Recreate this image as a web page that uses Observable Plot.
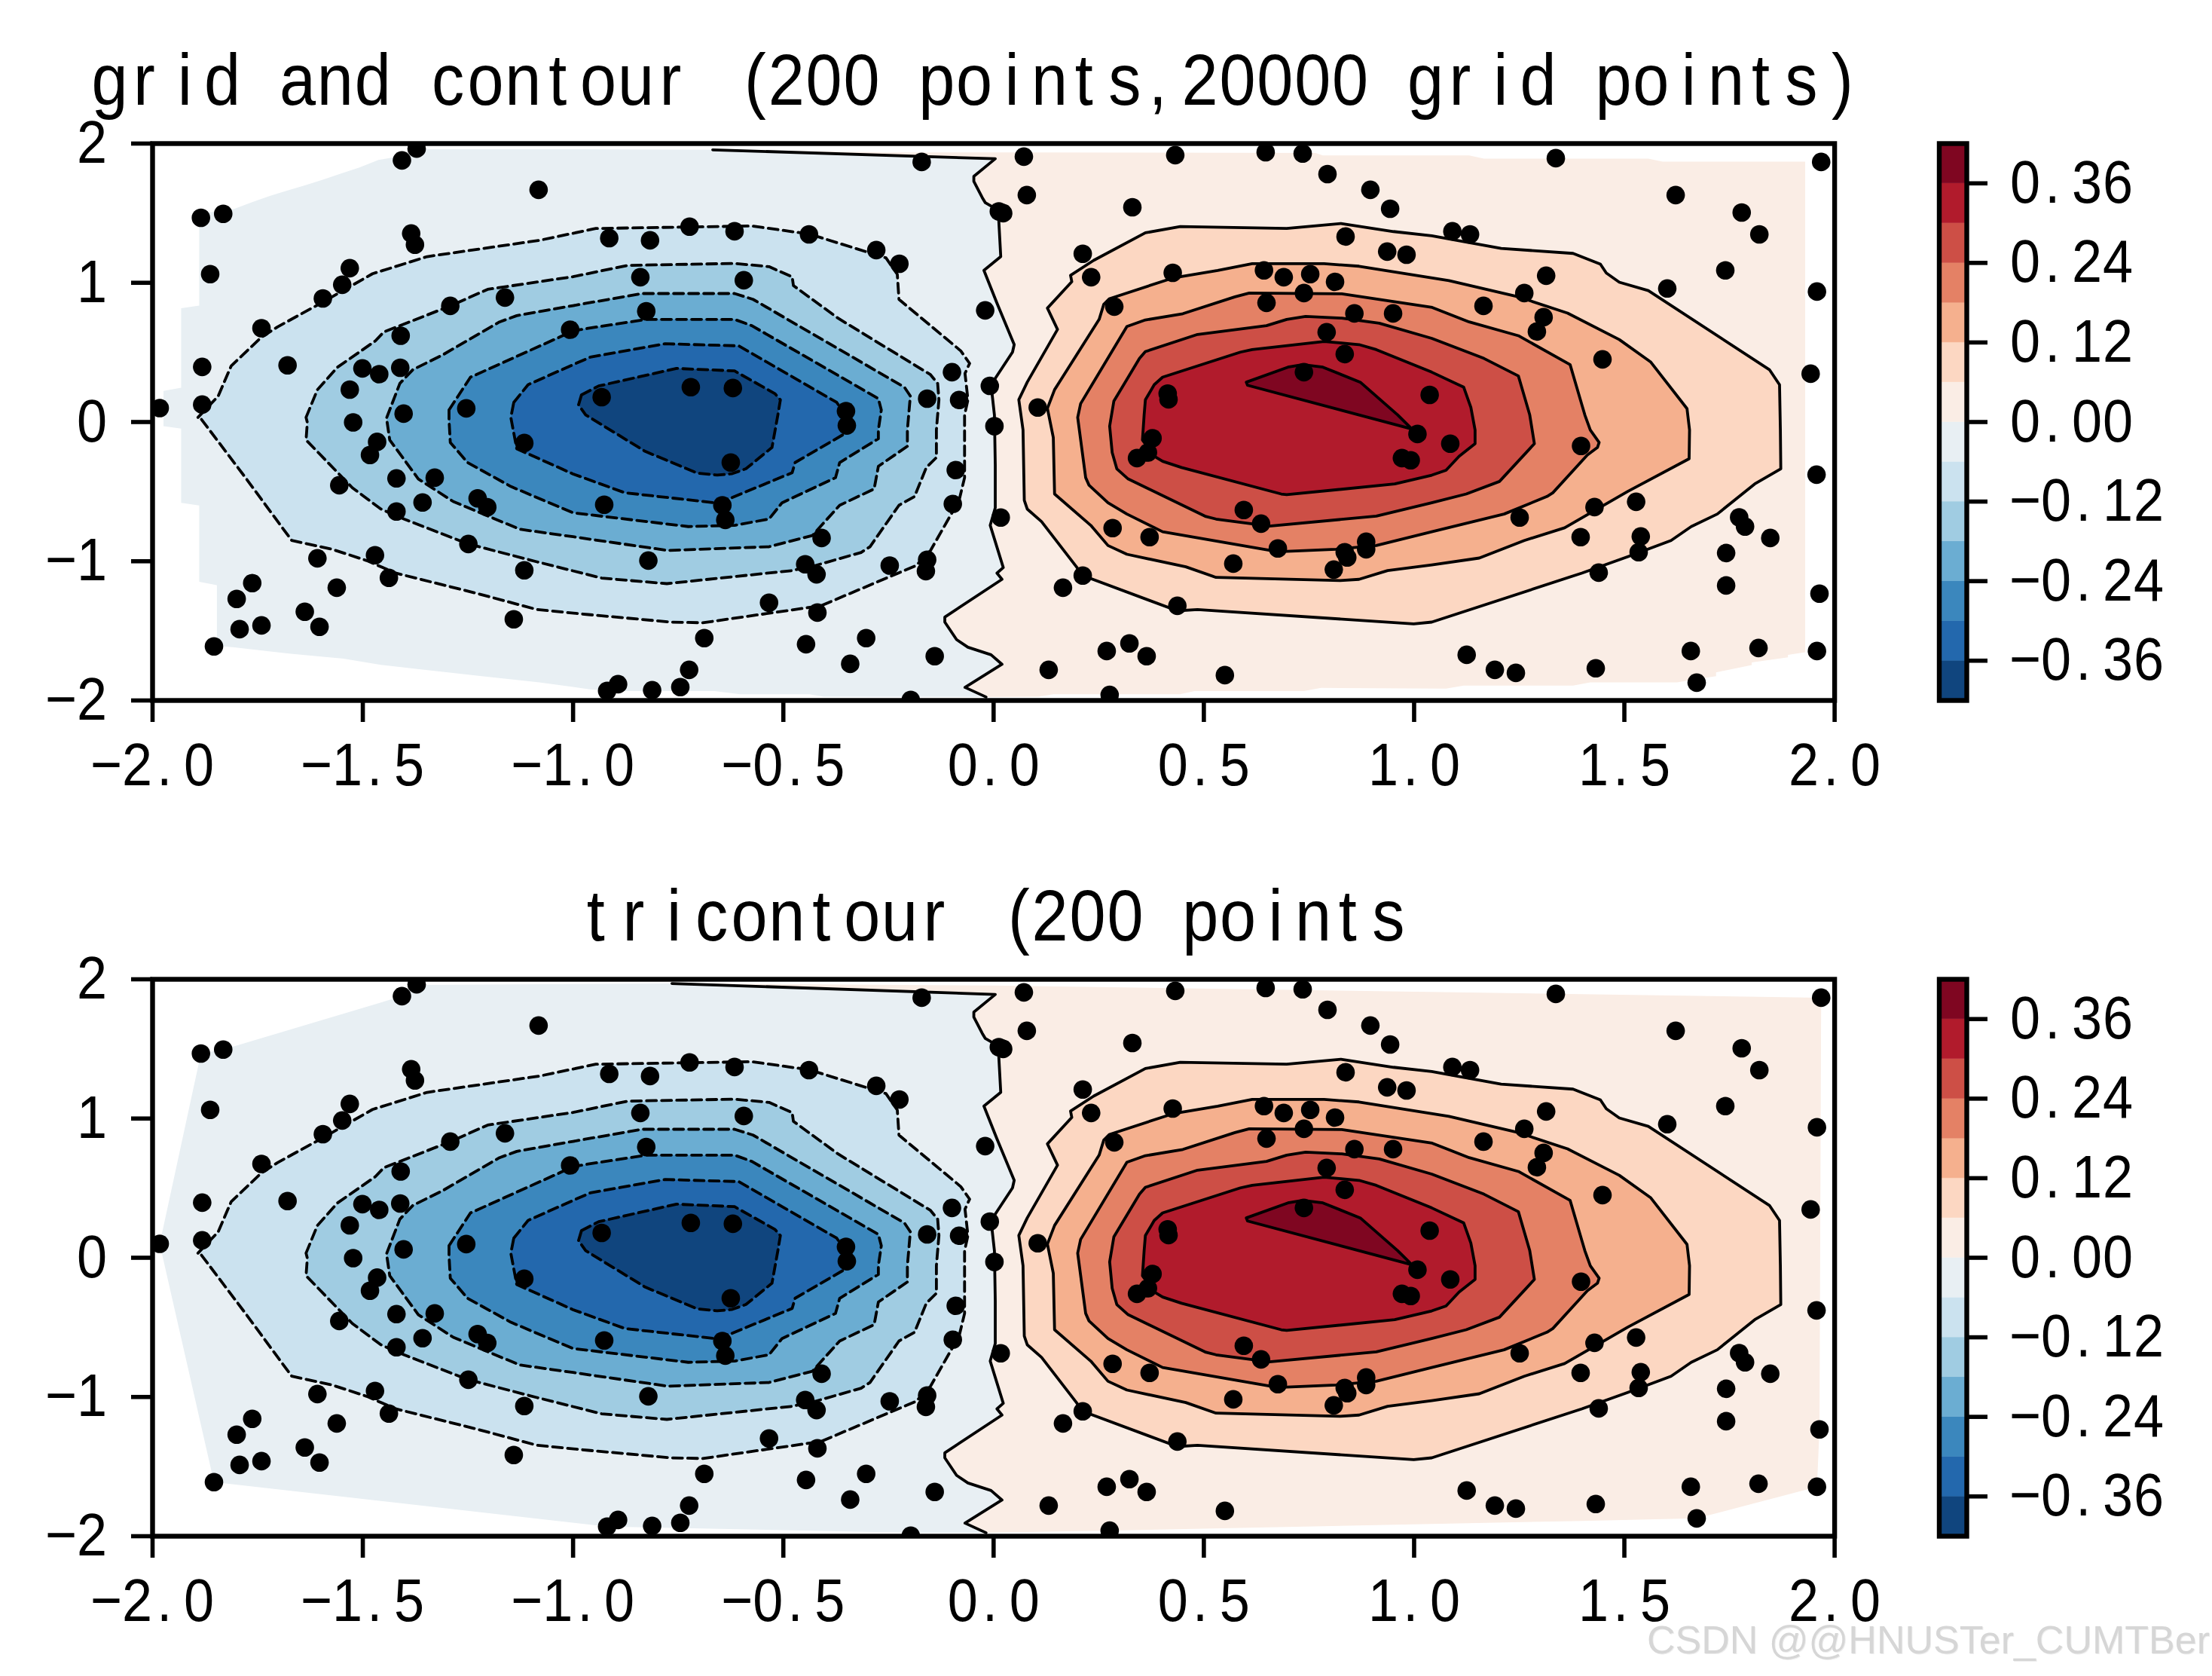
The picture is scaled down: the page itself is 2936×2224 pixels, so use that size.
<!DOCTYPE html>
<html>
<head>
<meta charset="utf-8">
<script src="https://cdn.jsdelivr.net/npm/d3@7"></script>
<script src="https://cdn.jsdelivr.net/npm/@observablehq/plot@0.6"></script>
<style>
html,body{margin:0;padding:0;background:#fff;width:2936px;height:2224px;overflow:hidden;position:relative}
#wm{position:absolute;left:2186px;top:2146px;font:52px "Liberation Sans",sans-serif;color:#d6d6d6;white-space:nowrap;text-shadow:1px 1px 0 #eee}
</style>
</head>
<body>
<div id="wm">CSDN @@HNUSTer_CUMTBer</div>
<script>
const titleTop = "grid and contour (200 points,20000 grid points)";
const titleBottom = "tricontour (200 points";
const xTicks = [-2,-1.5,-1,-0.5,0,0.5,1,1.5,2];
const yTicks = [-2,-1,0,1,2];
const barTicks = [-0.36,-0.24,-0.12,0,0.12,0.24,0.36];
const levels = [-0.42,-0.36,-0.30,-0.24,-0.18,-0.12,-0.06,0,0.06,0.12,0.18,0.24,0.30,0.36,0.42];
const bandColors = ["#10457e","#2368ad","#3b87bd","#6badd2","#a0cce2","#cbe2ef","#e8eff3","#faede5","#fcd7c2","#f5b08e","#e48165","#cd4f46","#b11b2c","#7f0621"];

const points = [[-1.983,.1],[-1.885,1.467],[-1.832,1.495],[-1.863,1.062],[-1.882,.396],[-1.882,.125],[-1.741,.674],[-1.679,.407],[-1.595,.888],[-1.549,.986],[-1.531,1.105],[-1.407,1.879],[-1.372,1.964],[-1.385,1.354],[-1.376,1.273],[-1.082,1.668],[-1.41,.62],[-1.411,.39],[-1.461,.344],[-1.501,.385],[-1.531,.233],[-1.523,-.003],[-1.403,.06],[-1.292,.834],[-1.162,.894],[-1.007,.663],[-1.254,.098],
[-1.466,-.143],[-1.483,-.237],[-1.42,-.405],[-1.556,-.454],[-1.329,-.4],[-1.358,-.578],[-1.42,-.643],[-1.227,-.548],[-1.204,-.612],[-1.249,-.876],[-1.608,-.979],[-1.471,-.957],[-1.438,-1.119],[-1.562,-1.19],[-1.116,-1.065],[-1.141,-1.417],[-1.763,-1.157],[-1.8,-1.271],[-1.741,-1.461],[-1.793,-1.488],[-1.854,-1.612],[-1.638,-1.363],[-1.603,-1.471],[-1.116,-.151],
[-.171,1.868],[-.02,.802],[.0125,1.513],[.0228,1.5],[-.914,1.321],[-.817,1.305],[-.723,1.403],[-.616,1.37],[-.439,1.348],[-.279,1.235],[-.224,1.137],[-.84,1.04],[-.594,1.018],[-.826,.796],[-.932,.179],[-.72,.25],[-.62,.244],[-.351,.078],[-.349,-.025],[-.158,.168],[-.082,.158],[-.099,.358],[-.009,.26],[.002,-.03],
[-.625,-.291],[-.09,-.345],[-.097,-.589],[.017,-.686],[-.926,-.594],[-.645,-.598],[-.638,-.703],[-.409,-.833],[-.821,-.995],[-.448,-1.022],[-.421,-1.094],[-.247,-1.031],[-.158,-.989],[-.161,-1.071],[-.534,-1.298],[-.419,-1.369],[-.688,-1.552],[-.446,-1.596],[-.303,-1.552],[-.341,-1.737],[-.14,-1.682],[-.724,-1.78],[-.745,-1.904],[-.812,-1.926],[-.893,-1.883],[-.919,-1.931],[-.197,-1.996],
[.072,1.906],[.079,1.63],[.432,1.917],[.647,1.938],[.735,1.928],[.794,1.781],[.896,1.668],[.943,1.532],[1.091,1.37],[.33,1.543],[.212,1.208],[.232,1.04],[.426,1.072],[.837,1.332],[.936,1.224],[.982,1.202],[.643,1.089],[.69,1.04],[.753,1.062],[.812,1.007],[.738,.926],[.649,.856],[.287,.829],[.858,.78],[.95,.78],[.792,.645],[.835,.488],[.738,.358],[1.037,.195],[.414,.204],[.416,.163],[.105,.104],
[.378,-.116],[.367,-.219],[.341,-.259],[1.008,-.086],[1.086,-.156],[.971,-.259],[.992,-.275],[.595,-.632],[.636,-.73],[.283,-.762],[.371,-.827],[.676,-.908],[.57,-1.017],[.835,-.935],[.841,-.973],[.809,-1.06],[.886,-.86],[.886,-.914],[.212,-1.103],[.165,-1.19],[.437,-1.32],[.269,-1.645],[.323,-1.59],[.364,-1.682],[.131,-1.78],[.276,-1.96],[.55,-1.818],
[1.337,1.895],[1.622,1.63],[1.779,1.505],[1.821,1.348],[1.74,1.089],[1.602,.959],[1.968,1.868],[1.958,.937],[1.943,.347],[1.133,1.348],[1.314,1.051],[1.262,.926],[1.165,.834],[1.308,.753],[1.292,.65],[1.448,.45],
[1.397,-.172],[1.957,-.378],[1.528,-.573],[1.429,-.611],[1.251,-.686],[1.396,-.827],[1.539,-.822],[1.534,-.935],[1.439,-1.082],[1.773,-.685],[1.787,-.751],[1.847,-.833],[1.742,-.941],[1.742,-1.174],[1.964,-1.233],[1.958,-1.645],[1.819,-1.623],[1.658,-1.645],[1.672,-1.872],[1.432,-1.769],[1.125,-1.672],[1.192,-1.78],[1.242,-1.802]];

const zeroMiddle = [[.004,1.891],[-.047,1.765],[-.047,1.729],[-.027,1.612],[-.02,1.576],[.011,1.522],[.017,1.188],[-.023,1.089],[.008,.854],[.049,.556],[.045,.502],[-.006,.268],[.002,.05],[.004,-.309],[.004,-.616],[-.008,-.742],[.023,-1.045],[.008,-1.085],[.02,-1.13],[-.116,-1.401],[-.116,-1.437],[-.088,-1.563],[-.061,-1.618],[-.006,-1.672],[.02,-1.74],[-.068,-1.906],[-.018,-1.975]];

const gridBlueEdge = [[-.668,1.955],[-1,1.96],[-1.354,1.96],[-1.395,1.918],[-1.463,1.882],[-1.508,1.828],[-1.549,1.787],[-1.594,1.742],[-1.635,1.702],[-1.676,1.666],[-1.721,1.624],[-1.762,1.58],[-1.806,1.53],[-1.889,1.495],[-1.889,.836],[-1.932,.818],[-1.932,.246],[-1.974,.223],[-1.974,-.03],[-1.932,-.048],[-1.932,-.58],[-1.889,-.6],[-1.889,-1.148],[-1.847,-1.172],[-1.847,-1.608],[-1.806,-1.618],[-1.676,-1.663],[-1.546,-1.7],[-1.457,-1.744],[-1.354,-1.78],[-1.217,-1.825],[-1.08,-1.87],[-.96,-1.92],[-.898,-1.933],[-.664,-1.933],[-.603,-1.955],[-.438,-1.955],[-.404,-1.973],[-.018,-1.975]];
const gridRedEdge = [[-.668,1.955],[-.246,1.937],[.039,1.937],[.766,1.933],[.783,1.915],[1.131,1.915],[1.166,1.892],[1.557,1.892],[1.591,1.87],[1.93,1.87],[1.93,-1.654],[1.889,-1.672],[1.889,-1.69],[1.803,-1.726],[1.803,-1.745],[1.718,-1.798],[1.718,-1.825],[1.625,-1.87],[1.419,-1.87],[1.378,-1.893],[1.118,-1.893],[1.076,-1.915],[.779,-1.91],[.738,-1.933],[.478,-1.933],[.443,-1.955],[.142,-1.955],[.107,-1.973],[-.018,-1.975]];
const triBlueEdge = [[-.765,1.97],[-1.372,1.96],[-1.407,1.879],[-1.832,1.495],[-1.885,1.467],[-1.983,.1],[-1.854,-1.612],[-.919,-1.931],[-.197,-1.975],[-.018,-1.975]];
const triRedEdge = [[-.765,1.97],[0,1.955],[1.968,1.868],[1.964,-1.233],[1.958,-1.645],[1.672,-1.872],[1.4,-1.89],[.276,-1.96],[-.018,-1.975]];

const blue06 = [[-1.892,.033],[-1.844,.186],[-1.813,.403],[-1.741,.61],[-1.703,.683],[-1.594,.863],[-1.477,1.065],[-1.347,1.188],[-1.08,1.305],[-.946,1.39],[-.575,1.408],[-.438,1.35],[-.256,1.179],[-.229,1.061],[-.225,.881],[-.078,.511],[-.057,.421],[-.068,.349],[-.061,.16],[-.069,.051],[-.069,-.4],[-.082,-.562],[-.15,-.923],[-.184,-1.031],[-.411,-1.32],[-.692,-1.442],[-.767,-1.437],[-.964,-1.383],[-1.086,-1.347],[-1.23,-1.23],[-1.422,-1.085],[-1.491,-.995],[-1.573,-.914],[-1.669,-.851],[-1.779,-.4],[-1.885,.024]];
const blue12 = [[-1.635,.033],[-1.608,.232],[-1.56,.394],[-1.47,.583],[-1.45,.647],[-1.292,.834],[-1.203,.953],[-1,1.044],[-.87,1.125],[-.616,1.139],[-.534,1.116],[-.479,1.043],[-.476,.98],[-.37,.746],[-.15,.34],[-.133,.277],[-.13,.16],[-.136,-.057],[-.136,-.255],[-.16,-.327],[-.188,-.535],[-.225,-.598],[-.294,-.896],[-.315,-.937],[-.424,-1.031],[-.479,-1.067],[-.777,-1.161],[-.932,-1.121],[-1.086,-1.004],[-1.249,-.876],[-1.402,-.697],[-1.457,-.625],[-1.525,-.472],[-1.635,-.129],[-1.632,-.003]];
const blue18 = [[-1.443,.033],[-1.412,.277],[-1.381,.376],[-1.309,.484],[-1.175,.719],[-1.134,.764],[-1,.836],[-.836,.923],[-.616,.923],[-.572,.881],[-.212,.25],[-.198,.187],[-.205,-.057],[-.205,-.174],[-.274,-.318],[-.284,-.481],[-.366,-.598],[-.431,-.815],[-.534,-.896],[-.774,-.923],[-1,-.824],[-1.127,-.77],[-1.285,-.571],[-1.368,-.409],[-1.436,-.129],[-1.443,.015]];
const blue24 = [[-1.295,.087],[-1.244,.322],[-1.032,.61],[-1,.656],[-.826,.737],[-.616,.737],[-.575,.692],[-.274,.168],[-.267,.087],[-.274,-.057],[-.274,-.12],[-.366,-.291],[-.376,-.4],[-.503,-.58],[-.534,-.697],[-.616,-.742],[-.726,-.751],[-1,-.652],[-1.148,-.463],[-1.251,-.291],[-1.292,-.147],[-1.295,.015]];
const blue30 = [[-1.141,.141],[-1.107,.268],[-1,.412],[-.959,.466],[-.781,.562],[-.606,.547],[-.373,.141],[-.349,.033],[-.349,-.075],[-.472,-.291],[-.479,-.364],[-.623,-.544],[-.664,-.58],[-.877,-.508],[-1,-.373],[-1.134,-.192],[-1.148,.033]];
const blue36 = [[-.98,.195],[-.939,.259],[-.754,.385],[-.616,.367],[-.52,.204],[-.507,.16],[-.513,.051],[-.527,-.183],[-.589,-.336],[-.623,-.372],[-.657,-.381],[-.705,-.367],[-.829,-.21],[-.97,.051],[-.987,.123]];
const red06 = [[.07,-.057],[.06,.16],[.08,.286],[.152,.665],[.128,.818],[.186,1.008],[.183,1.053],[.238,1.161],[.361,1.359],[.444,1.404],[.697,1.39],[.826,1.426],[.951,1.368],[1.042,1.338],[1.207,1.247],[1.378,1.211],[1.443,1.134],[1.457,1.07],[1.488,1.004],[1.557,.944],[1.845,.376],[1.869,.268],[1.871,-.057],[1.872,-.336],[1.81,-.445],[1.721,-.661],[1.659,-.751],[1.611,-.851],[1.508,-.968],[1.399,-1.085],[1.042,-1.437],[.999,-1.45],[.485,-1.347],[.437,-1.356],[.212,-1.103],[.197,-1.04],[.114,-.715],[.08,-.625],[.073,-.562]];
const red12 = [[.142,-.111],[.128,.098],[.145,.232],[.251,.737],[.262,.845],[.275,.885],[.426,1.034],[.533,1.089],[.615,1.137],[.786,1.137],[.869,1.119],[1.083,1.016],[1.248,.899],[1.365,.782],[1.488,.592],[1.563,.43],[1.649,.096],[1.655,-.057],[1.654,-.264],[1.508,-.499],[1.358,-.76],[1.262,-.851],[1.155,-.977],[1.042,-1.026],[.937,-1.067],[.869,-1.13],[.824,-1.139],[.529,-1.116],[.457,-1.04],[.317,-.95],[.272,-.887],[.231,-.742],[.145,-.517]];
const red18 = [[.2,.033],[.207,.132],[.317,.686],[.361,.733],[.45,.778],[.574,.899],[.608,.926],[.828,.921],[1.043,.823],[1.131,.719],[1.248,.62],[1.371,.412],[1.399,.123],[1.406,.051],[1.419,-.057],[1.44,-.147],[1.436,-.183],[1.412,-.237],[1.33,-.508],[1.316,-.535],[1.214,-.661],[1.042,-.788],[.91,-.887],[.814,-.914],[.676,-.932],[.402,-.788],[.317,-.661],[.272,-.58],[.227,-.454],[.219,-.4]];
const red24 = [[.276,-.03],[.286,.15],[.347,.457],[.361,.506],[.485,.629],[.649,.692],[.697,.737],[.742,.758],[.828,.746],[.917,.71],[1.042,.601],[1.166,.457],[1.248,.331],[1.275,.051],[1.286,-.156],[1.203,-.427],[1.124,-.517],[1.042,-.58],[.91,-.676],[.656,-.748],[.529,-.697],[.505,-.679],[.32,-.409],[.293,-.336],[.282,-.219]];
const red30 = [[.358,.051],[.361,.16],[.382,.268],[.402,.322],[.587,.502],[.615,.52],[.786,.578],[.869,.556],[.91,.52],[1.042,.358],[1.118,.25],[1.135,.105],[1.145,-.057],[1.145,-.156],[1.107,-.246],[1.076,-.346],[1.042,-.382],[.954,-.445],[.697,-.522],[.684,-.517],[.447,-.327],[.402,-.282],[.382,-.246],[.354,-.129]];
const red36 = [[.601,.286],[.604,.264],[.992,-.048],[1.006,-.084],[.985,-.021],[.961,.051],[.872,.286],[.783,.394],[.735,.412],[.7,.394]];

const FONT = '"Liberation Sans",Arial,sans-serif';
const tickText = d => d3.format(".1f")(d).replace("-","\u2212");
const intText = d => String(d).replace("-","\u2212");
const barText = d => d3.format(".2f")(d).replace("-","\u2212");
const closed = a => a.concat([a[0]]);
const X = d => d[0], Y = d => d[1];

function contour(poly, color, dashed) {
  return Plot.line(closed(poly), {x: X, y: Y, fill: color, stroke: "black", strokeWidth: 3.8,
    strokeDasharray: dashed ? "13 7" : undefined, curve: "linear"});
}
function panel(top, title, titleOpts, blueEdge, redEdge, zeroStart) {
  const zero = [zeroStart].concat(zeroMiddle);
  const back = zero.slice().reverse();
  return Plot.plot({
    width: 2500, height: 1099,
    marginLeft: 202, marginRight: 65.4, marginTop: 190, marginBottom: 170,
    x: {domain: [-2, 2], type: "linear"}, y: {domain: [-2, 2], type: "linear"},
    style: {position: "absolute", left: "0px", top: top + "px", background: "transparent", fontFamily: FONT, color: "black", overflow: "visible"},
    marks: [
      Plot.line(blueEdge.concat(back), {x: X, y: Y, fill: bandColors[6], stroke: "none"}),
      Plot.line(redEdge.concat(back), {x: X, y: Y, fill: bandColors[7], stroke: "none"}),
      contour(blue06, bandColors[5], true), contour(blue12, bandColors[4], true), contour(blue18, bandColors[3], true),
      contour(blue24, bandColors[2], true), contour(blue30, bandColors[1], true), contour(blue36, bandColors[0], true),
      contour(red06, bandColors[8]), contour(red12, bandColors[9]), contour(red18, bandColors[10]),
      contour(red24, bandColors[11]), contour(red30, bandColors[12]), contour(red36, bandColors[13]),
      Plot.line(zero, {x: X, y: Y, stroke: "black", strokeWidth: 3.8}),
      Plot.dot(points, {x: X, y: Y, r: 12.3, fill: "black", stroke: "none", clip: true}),
      Plot.frame({stroke: "black", strokeWidth: 6.4}),
      Plot.axisX({ticks: xTicks, tickFormat: tickText, tickSize: 29, tickPadding: 27, fontSize: 80, strokeWidth: 5.6, label: null, anchor: "bottom"}),
      Plot.axisY({ticks: yTicks, tickFormat: intText, tickSize: 28, tickPadding: 32, fontSize: 80, strokeWidth: 5.6, label: null, anchor: "left"}),
      Plot.text([title], Object.assign({text: d => d, fontSize: 96, lineAnchor: "bottom", fill: "black"}, titleOpts))
    ]
  });
}
function colorbar(top) {
  const bands = bandColors.map((c, i) => ({y1: levels[i], y2: levels[i + 1], c}));
  return Plot.plot({
    width: 436, height: 1099,
    marginLeft: 73.5, marginRight: 326, marginTop: 190, marginBottom: 170,
    x: {domain: [0, 1], axis: null}, y: {domain: [-0.42, 0.42], type: "linear"},
    style: {position: "absolute", left: "2500px", top: top + "px", background: "transparent", fontFamily: FONT, color: "black", overflow: "visible"},
    marks: [
      Plot.rectY(bands, {x1: 0, x2: 1, y1: "y1", y2: "y2", fill: "c", stroke: "c", strokeWidth: 0.5}),
      Plot.frame({stroke: "black", strokeWidth: 6.4}),
      Plot.axisY({ticks: barTicks, tickFormat: barText, tickSize: 27, tickPadding: 30, fontSize: 80, strokeWidth: 5.6, label: null, anchor: "right"})
    ]
  });
}
// Lay out each label on a half-em cell grid with slightly narrowed glyphs, as the reference's monospaced face does.
const SX = 0.9;
function cells(svg) {
  svg.querySelectorAll("text").forEach(t => {
    const s = t.textContent, n = s.length, cs = getComputedStyle(t);
    const size = parseFloat(cs.fontSize), cell = size === 96 ? 49.9 : 41;
    const anchor = cs.textAnchor, total = n * cell;
    const off = anchor === "middle" ? -total / 2 : anchor === "end" ? -total : 0;
    const xs = [];
    for (let i = 0; i < n; i++) {
      const adv = t.getSubStringLength(i, 1) * SX, c = s[i];
      let p = (cell - adv) / 2;
      if (c === "." || c === ",") p = cell * 0.14;
      if (c === "(") p = cell - adv - 2;
      if (c === ")") p = cell - adv - 6;
      if (c === "t" || c === "r") p -= 4;
      xs.push(((off + i * cell + p) / SX).toFixed(2));
    }
    t.setAttribute("text-anchor", "start");
    t.setAttribute("x", xs.join(" "));
    const tr = t.getAttribute("transform") || "";
    t.setAttribute("transform", (tr + " scale(" + SX + ",1)").trim());
  });
}
const bottomTop = 1108.6;
const svgs = [
  panel(0, titleTop, {frameAnchor: "top-left", textAnchor: "start", dx: -82, dy: -52}, gridBlueEdge, gridRedEdge, [-.668,1.955]),
  panel(bottomTop, titleBottom, {frameAnchor: "top", dy: -52}, triBlueEdge, triRedEdge, [-.765,1.97]),
  colorbar(0), colorbar(bottomTop)
];
svgs.forEach(s => { document.body.appendChild(s); cells(s); });
</script>
</body>
</html>
